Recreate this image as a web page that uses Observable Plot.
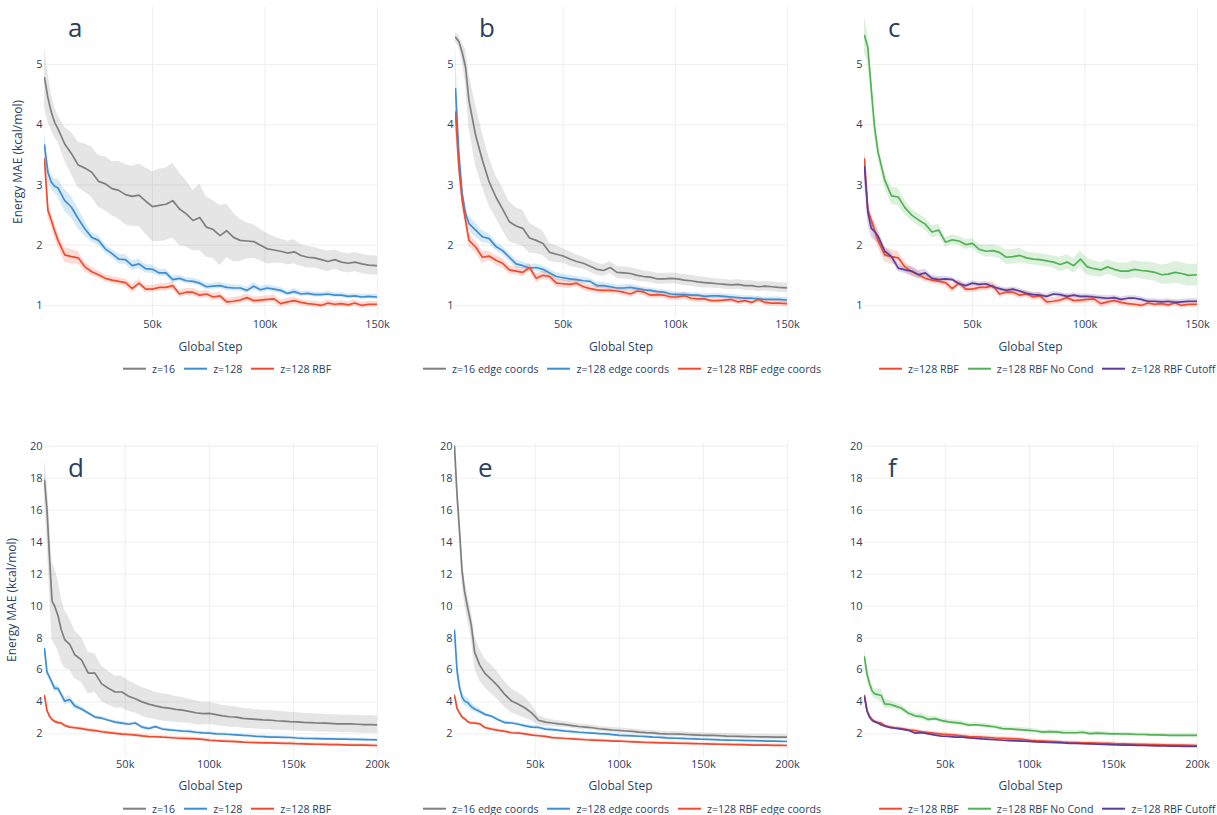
<!DOCTYPE html>
<html>
<head>
<meta charset="utf-8">
<script src="https://cdn.jsdelivr.net/npm/d3@7"></script>
<script src="https://cdn.jsdelivr.net/npm/@observablehq/plot@0.6"></script>
<style>
  body { margin: 0; background: #fff; font-family: 'Open Sans', sans-serif; color: #2a3f5f; }
  #root { position: relative; width: 1217px; height: 815px; overflow: hidden; background: #fff; }
  .panel { position: absolute; }
  .letter { position: absolute; font-size: 26px; line-height: 1; color: #2a3f5f; }
  .xtitle { position: absolute; font-size: 12px; line-height: 1; transform: translate(-50%, -50%); white-space: nowrap; color: #2a3f5f; }
  .ytitle { position: absolute; font-size: 12px; line-height: 1; transform: translate(-50%, -50%) rotate(-90deg); white-space: nowrap; color: #2a3f5f; }
  .legend { position: absolute; display: flex; align-items: center; font-size: 10.6px; line-height: 1; white-space: nowrap; transform: translateY(-50%); color: #2a3f5f; }
  .item { display: flex; align-items: center; margin-right: 9px; }
  .swatch { width: 23px; height: 2px; margin-right: 6px; }
</style>
</head>
<body>
<div id="root"></div>
<script>
// ---------- DATA ----------
const stepsTop = [2000,3500,5000,6500,8000,11000,14000,17000,20000,23000,
  26000,29000,32000,35000,38000,41000,44000,47000,50000,53000,
  56000,59000,62000,65000,68000,71000,74000,77000,80000,83000,
  86000,89000,92000,95000,98000,101000,104000,107000,110000,113000,
  116000,119000,122000,125000,128000,131000,134000,137000,140000,143000,
  146000,150000];
const stepsBottom = [2000,3500,5000,6500,8000,10000,12000,14000,17000,20000,
  24000,28000,32000,36000,40000,44000,48000,52000,56000,60000,
  64000,68000,72000,76000,80000,84000,88000,92000,96000,100000,
  104000,108000,112000,116000,120000,124000,128000,132000,136000,140000,
  144000,148000,152000,156000,160000,164000,168000,172000,176000,180000,
  184000,188000,192000,196000,200000];

const xTicksTop = [50000, 100000, 150000];
const xTicksBottom = [50000, 100000, 150000, 200000];
const yTicksTop = [1, 2, 3, 4, 5];
const yTicksBottom = [2, 4, 6, 8, 10, 12, 14, 16, 18, 20];

// panel a
const z16 = [4.78,4.45,4.21,4.04,3.93,3.68,3.52,3.33,3.28,3.21,
  3.06,3.02,2.94,2.91,2.84,2.81,2.83,2.73,2.64,2.66,
  2.68,2.74,2.60,2.52,2.41,2.46,2.30,2.26,2.16,2.24,
  2.13,2.08,2.07,2.06,2.00,1.94,1.92,1.90,1.87,1.89,
  1.83,1.80,1.79,1.76,1.73,1.76,1.72,1.70,1.72,1.69,
  1.67,1.66];
const z16Sd = [0.5,0.4,0.3,0.25,0.22,0.28,0.35,0.38,0.4,0.42,
  0.43,0.45,0.45,0.48,0.5,0.5,0.52,0.55,0.58,0.6,
  0.6,0.62,0.6,0.55,0.5,0.55,0.5,0.48,0.5,0.45,
  0.4,0.35,0.3,0.28,0.26,0.25,0.22,0.2,0.2,0.2,
  0.18,0.18,0.17,0.17,0.17,0.16,0.16,0.16,0.16,0.16,
  0.16,0.16];
const z128 = [3.66,3.21,3.05,2.98,2.95,2.74,2.63,2.44,2.27,2.13,
  2.08,1.94,1.86,1.77,1.76,1.66,1.69,1.61,1.60,1.54,
  1.54,1.43,1.45,1.41,1.40,1.37,1.31,1.32,1.33,1.30,
  1.29,1.29,1.25,1.32,1.26,1.29,1.27,1.25,1.20,1.23,
  1.19,1.20,1.18,1.18,1.19,1.17,1.17,1.15,1.16,1.14,
  1.15,1.14];
const z128Sd = [0.2,0.15,0.12,0.12,0.15,0.18,0.18,0.17,0.12,0.08,
  0.08,0.07,0.07,0.08,0.08,0.08,0.08,0.07,0.07,0.06,
  0.06,0.06,0.05,0.05,0.05,0.05,0.05,0.05,0.05,0.05,
  0.05,0.05,0.05,0.06,0.05,0.05,0.05,0.05,0.04,0.05,
  0.04,0.04,0.04,0.04,0.04,0.04,0.04,0.04,0.04,0.04,
  0.04,0.04];
const z128Rbf = [3.43,2.58,2.42,2.24,2.08,1.84,1.81,1.79,1.64,1.56,
  1.51,1.45,1.42,1.40,1.38,1.28,1.37,1.27,1.27,1.30,
  1.30,1.33,1.19,1.22,1.22,1.17,1.19,1.14,1.16,1.06,
  1.07,1.09,1.13,1.08,1.09,1.10,1.11,1.03,1.06,1.08,
  1.05,1.03,1.02,1.00,1.04,1.02,1.03,1.01,1.04,1.00,
  1.02,1.02];
const z128RbfSd = [0.12,0.12,0.12,0.12,0.12,0.12,0.12,0.1,0.08,0.07,
  0.06,0.06,0.06,0.06,0.06,0.07,0.06,0.06,0.06,0.06,
  0.06,0.07,0.06,0.06,0.06,0.06,0.06,0.06,0.06,0.06,
  0.06,0.06,0.06,0.06,0.06,0.06,0.06,0.06,0.06,0.06,
  0.05,0.05,0.05,0.05,0.05,0.05,0.05,0.05,0.05,0.05,
  0.05,0.05];

// panel b
const z16Edge = [5.45,5.38,5.20,4.95,4.40,3.82,3.41,3.05,2.80,2.60,
  2.39,2.32,2.28,2.12,2.08,2.03,1.88,1.85,1.82,1.77,
  1.73,1.70,1.65,1.60,1.58,1.63,1.55,1.54,1.53,1.50,
  1.48,1.47,1.44,1.44,1.45,1.44,1.42,1.41,1.39,1.38,
  1.37,1.36,1.35,1.34,1.35,1.33,1.33,1.31,1.32,1.31,
  1.30,1.29];
const z16EdgeSd = [0.08,0.1,0.15,0.3,0.45,0.5,0.45,0.4,0.35,0.35,
  0.33,0.3,0.3,0.25,0.22,0.2,0.15,0.14,0.12,0.12,
  0.11,0.1,0.1,0.1,0.1,0.1,0.1,0.1,0.1,0.1,
  0.09,0.09,0.09,0.09,0.09,0.09,0.09,0.09,0.09,0.09,
  0.08,0.08,0.08,0.08,0.08,0.08,0.08,0.08,0.08,0.08,
  0.08,0.08];
const z128Edge = [4.60,3.52,2.85,2.52,2.36,2.25,2.14,2.11,1.98,1.91,
  1.80,1.69,1.66,1.62,1.63,1.60,1.54,1.48,1.46,1.44,
  1.43,1.41,1.40,1.33,1.33,1.31,1.29,1.29,1.30,1.28,
  1.26,1.25,1.23,1.22,1.19,1.18,1.18,1.17,1.17,1.15,
  1.16,1.16,1.15,1.14,1.13,1.12,1.12,1.11,1.10,1.10,
  1.10,1.09];
const z128EdgeSd = [0.75,0.3,0.15,0.12,0.12,0.12,0.1,0.08,0.07,0.07,
  0.07,0.07,0.06,0.06,0.06,0.06,0.06,0.06,0.06,0.06,
  0.05,0.05,0.05,0.05,0.05,0.05,0.05,0.05,0.05,0.05,
  0.04,0.04,0.04,0.04,0.04,0.04,0.04,0.04,0.04,0.04,
  0.04,0.04,0.04,0.04,0.04,0.04,0.04,0.04,0.04,0.04,
  0.04,0.04];
const z128RbfEdge = [4.21,3.30,2.74,2.41,2.08,1.97,1.80,1.82,1.75,1.70,
  1.59,1.57,1.55,1.63,1.45,1.50,1.48,1.37,1.36,1.35,
  1.37,1.31,1.28,1.26,1.25,1.25,1.24,1.22,1.19,1.24,
  1.22,1.17,1.18,1.17,1.14,1.14,1.16,1.12,1.11,1.11,
  1.08,1.08,1.09,1.10,1.06,1.08,1.05,1.10,1.05,1.04,
  1.04,1.03];
const z128RbfEdgeSd = [0.15,0.15,0.12,0.1,0.1,0.1,0.1,0.08,0.08,0.08,
  0.07,0.07,0.07,0.07,0.07,0.07,0.07,0.07,0.07,0.07,
  0.06,0.06,0.06,0.06,0.06,0.06,0.06,0.06,0.06,0.06,
  0.06,0.06,0.06,0.06,0.06,0.06,0.06,0.06,0.06,0.06,
  0.05,0.05,0.05,0.05,0.05,0.05,0.05,0.05,0.05,0.05,
  0.05,0.05];

// panel c (z=128 RBF is the same run as in panel a)
const z128RbfNoCond = [5.48,5.28,4.60,3.95,3.55,3.08,2.82,2.80,2.62,2.50,
  2.42,2.35,2.22,2.25,2.05,2.09,2.07,2.01,2.03,1.93,
  1.90,1.91,1.88,1.80,1.81,1.83,1.79,1.77,1.76,1.74,
  1.72,1.68,1.72,1.66,1.77,1.64,1.61,1.59,1.64,1.60,
  1.57,1.57,1.60,1.58,1.57,1.55,1.51,1.52,1.55,1.53,
  1.50,1.51];
const z128RbfNoCondSd = [0.3,0.25,0.2,0.15,0.12,0.12,0.14,0.15,0.12,0.1,
  0.1,0.1,0.1,0.1,0.08,0.08,0.08,0.08,0.08,0.08,
  0.1,0.1,0.1,0.12,0.12,0.12,0.1,0.1,0.1,0.1,
  0.1,0.12,0.12,0.12,0.14,0.14,0.13,0.12,0.12,0.12,
  0.13,0.14,0.14,0.14,0.15,0.15,0.16,0.17,0.18,0.18,
  0.18,0.18];
const z128RbfCutoff = [3.30,2.55,2.28,2.23,2.15,1.90,1.81,1.62,1.59,1.57,
  1.51,1.54,1.45,1.43,1.44,1.43,1.36,1.33,1.37,1.35,
  1.36,1.31,1.28,1.25,1.27,1.24,1.20,1.18,1.17,1.15,
  1.19,1.18,1.15,1.17,1.15,1.15,1.14,1.13,1.12,1.13,
  1.10,1.12,1.12,1.10,1.07,1.07,1.06,1.07,1.05,1.06,
  1.07,1.07];
const z128RbfCutoffSd = [0.25,0.2,0.15,0.15,0.12,0.08,0.06,0.06,0.06,0.08,
  0.07,0.06,0.05,0.05,0.04,0.04,0.04,0.04,0.04,0.04,
  0.04,0.04,0.04,0.04,0.04,0.04,0.04,0.04,0.04,0.04,
  0.04,0.04,0.04,0.04,0.04,0.04,0.04,0.04,0.04,0.04,
  0.04,0.04,0.04,0.04,0.04,0.04,0.04,0.04,0.04,0.04,
  0.04,0.04];

// panel d
const d16 = [17.86,16.0,13.0,10.3,10.0,9.4,8.5,7.9,7.6,6.95,
  6.63,5.8,5.8,5.13,4.85,4.62,4.62,4.35,4.2,4.0,
  3.86,3.75,3.66,3.61,3.53,3.48,3.41,3.32,3.26,3.28,
  3.20,3.12,3.07,3.05,2.97,2.94,2.91,2.87,2.86,2.82,
  2.80,2.77,2.75,2.72,2.70,2.68,2.67,2.65,2.63,2.62,
  2.62,2.60,2.58,2.58,2.56];
const d16Sd = [1.3,1.8,2.2,2.4,2.4,2.2,2.0,1.8,1.6,1.5,
  1.4,1.3,1.2,1.1,1.05,1.0,1.0,0.95,0.9,0.9,
  0.9,0.85,0.85,0.85,0.8,0.8,0.75,0.75,0.7,0.7,
  0.68,0.66,0.65,0.63,0.62,0.61,0.6,0.6,0.6,0.59,
  0.58,0.58,0.57,0.57,0.56,0.56,0.56,0.55,0.55,0.55,
  0.55,0.55,0.55,0.55,0.55];
const d128 = [7.32,5.86,5.55,5.2,4.85,4.85,4.45,4.05,4.15,3.75,
  3.56,3.3,3.05,2.98,2.85,2.73,2.67,2.6,2.68,2.42,
  2.33,2.45,2.3,2.25,2.21,2.17,2.16,2.1,2.06,2.04,
  2.0,1.99,1.96,1.93,1.9,1.88,1.84,1.83,1.8,1.79,
  1.78,1.77,1.74,1.72,1.71,1.7,1.69,1.68,1.67,1.67,
  1.66,1.65,1.64,1.63,1.62];
const d128Sd = [0.3,0.25,0.2,0.2,0.2,0.2,0.22,0.25,0.25,0.2,
  0.15,0.12,0.1,0.1,0.1,0.1,0.1,0.1,0.1,0.1,
  0.08,0.08,0.08,0.08,0.08,0.08,0.08,0.08,0.08,0.08,
  0.08,0.08,0.08,0.08,0.08,0.08,0.08,0.08,0.08,0.08,
  0.08,0.08,0.08,0.08,0.08,0.08,0.08,0.08,0.08,0.08,
  0.08,0.08,0.08,0.08,0.08];
const d128Rbf = [4.4,3.46,3.1,2.9,2.78,2.7,2.67,2.52,2.42,2.38,
  2.33,2.25,2.2,2.13,2.08,2.03,1.98,1.96,1.92,1.87,
  1.83,1.82,1.79,1.77,1.74,1.72,1.70,1.68,1.65,1.60,
  1.57,1.55,1.53,1.51,1.48,1.46,1.45,1.44,1.43,1.42,
  1.41,1.40,1.38,1.37,1.36,1.35,1.34,1.33,1.32,1.31,
  1.30,1.29,1.29,1.28,1.27];
const d128RbfSd = [0.15,0.15,0.12,0.12,0.1,0.1,0.1,0.1,0.1,0.1,
  0.1,0.1,0.1,0.1,0.1,0.1,0.1,0.1,0.1,0.1,
  0.1,0.1,0.1,0.1,0.1,0.1,0.1,0.1,0.1,0.1,
  0.09,0.09,0.09,0.09,0.09,0.09,0.09,0.09,0.09,0.09,
  0.09,0.09,0.09,0.09,0.09,0.09,0.09,0.09,0.09,0.09,
  0.09,0.09,0.09,0.09,0.09];

// panel e
const e16 = [20.0,17.0,14.7,12.2,10.9,9.8,8.8,7.1,6.3,5.8,
  5.4,4.97,4.45,4.05,3.85,3.62,3.3,2.85,2.73,2.68,
  2.62,2.58,2.52,2.46,2.42,2.38,2.32,2.28,2.24,2.21,
  2.18,2.15,2.11,2.08,2.06,2.02,2.0,1.99,1.98,1.96,
  1.94,1.92,1.91,1.9,1.88,1.86,1.85,1.84,1.83,1.82,
  1.81,1.81,1.8,1.79,1.79];
const e16Sd = [0.3,0.6,0.8,0.8,0.8,0.8,0.9,1.0,1.0,0.9,
  0.9,0.85,0.8,0.75,0.7,0.65,0.5,0.3,0.25,0.2,
  0.2,0.18,0.18,0.17,0.17,0.16,0.16,0.15,0.15,0.15,
  0.15,0.15,0.15,0.15,0.15,0.15,0.15,0.15,0.15,0.15,
  0.15,0.15,0.15,0.15,0.15,0.15,0.15,0.15,0.15,0.15,
  0.15,0.15,0.15,0.15,0.15];
const e128 = [8.47,6.0,4.9,4.3,4.05,3.95,3.7,3.56,3.4,3.22,
  3.1,2.88,2.7,2.68,2.6,2.5,2.42,2.4,2.3,2.26,
  2.22,2.17,2.14,2.1,2.07,2.04,2.01,2.0,1.95,1.91,
  1.89,1.87,1.85,1.83,1.8,1.78,1.75,1.73,1.72,1.7,
  1.69,1.67,1.66,1.64,1.62,1.61,1.6,1.59,1.58,1.57,
  1.56,1.55,1.54,1.53,1.52];
const e128Sd = [0.5,0.4,0.3,0.3,0.3,0.3,0.25,0.2,0.15,0.12,
  0.1,0.1,0.1,0.1,0.1,0.1,0.1,0.1,0.1,0.1,
  0.08,0.08,0.08,0.08,0.08,0.08,0.08,0.08,0.08,0.08,
  0.07,0.07,0.07,0.07,0.07,0.07,0.07,0.07,0.07,0.07,
  0.06,0.06,0.06,0.06,0.06,0.06,0.06,0.06,0.06,0.06,
  0.06,0.06,0.06,0.06,0.06];
const e128Rbf = [4.4,3.6,3.3,3.05,2.95,2.75,2.68,2.67,2.63,2.4,
  2.3,2.22,2.15,2.07,2.04,2.0,1.92,1.88,1.84,1.76,
  1.74,1.71,1.69,1.66,1.63,1.61,1.59,1.57,1.55,1.54,
  1.52,1.5,1.48,1.46,1.45,1.44,1.43,1.42,1.41,1.4,
  1.39,1.38,1.37,1.36,1.35,1.34,1.33,1.32,1.31,1.3,
  1.3,1.29,1.28,1.28,1.27];
const e128RbfSd = [0.12,0.12,0.1,0.1,0.08,0.08,0.08,0.08,0.08,0.08,
  0.08,0.08,0.08,0.08,0.08,0.08,0.08,0.08,0.08,0.08,
  0.08,0.08,0.08,0.08,0.08,0.08,0.08,0.08,0.08,0.08,
  0.08,0.08,0.08,0.08,0.08,0.08,0.08,0.08,0.08,0.08,
  0.08,0.08,0.08,0.08,0.08,0.08,0.08,0.08,0.08,0.08,
  0.08,0.08,0.08,0.08,0.08];

// panel f (z=128 RBF is the same run as in panel d)
const f128NoCond = [6.8,5.76,5.15,4.7,4.5,4.45,4.4,3.88,3.85,3.75,
  3.6,3.3,3.13,3.08,2.9,2.95,2.83,2.75,2.7,2.65,
  2.55,2.57,2.53,2.48,2.43,2.33,2.31,2.28,2.25,2.22,
  2.18,2.11,2.14,2.12,2.08,2.07,2.07,2.1,2.01,2.04,
  2.03,2.0,2.0,1.99,1.98,1.96,1.96,1.93,1.93,1.92,
  1.91,1.9,1.9,1.9,1.9];
const f128NoCondSd = [0.5,0.4,0.35,0.3,0.3,0.35,0.4,0.3,0.25,0.2,
  0.2,0.18,0.18,0.2,0.18,0.15,0.15,0.15,0.15,0.15,
  0.13,0.13,0.13,0.13,0.13,0.13,0.13,0.13,0.13,0.13,
  0.12,0.12,0.12,0.12,0.12,0.12,0.12,0.12,0.12,0.12,
  0.1,0.1,0.1,0.1,0.1,0.1,0.1,0.1,0.1,0.1,
  0.1,0.1,0.1,0.1,0.1];
const f128Cutoff = [4.3,3.45,3.05,2.85,2.75,2.68,2.55,2.48,2.4,2.35,
  2.3,2.22,2.05,2.08,2.0,1.92,1.85,1.84,1.8,1.79,
  1.75,1.72,1.68,1.65,1.63,1.6,1.58,1.56,1.55,1.53,
  1.5,1.48,1.46,1.45,1.43,1.41,1.4,1.38,1.37,1.35,
  1.34,1.32,1.31,1.3,1.29,1.28,1.27,1.26,1.25,1.24,
  1.23,1.23,1.22,1.22,1.21];
const f128CutoffSd = [0.1,0.1,0.08,0.07,0.07,0.07,0.07,0.07,0.07,0.07,
  0.07,0.07,0.07,0.07,0.07,0.07,0.07,0.07,0.07,0.07,
  0.07,0.07,0.07,0.07,0.07,0.07,0.07,0.07,0.07,0.07,
  0.07,0.07,0.07,0.07,0.07,0.07,0.07,0.07,0.07,0.07,
  0.07,0.07,0.07,0.07,0.07,0.07,0.07,0.07,0.07,0.07,
  0.07,0.07,0.07,0.07,0.07];

// ---------- STYLE ----------
const GREY = "#7f7f7f", BLUE = "#3d8fd1", RED = "#f04a2f", GREEN = "#52b255", PURPLE = "#5c3d9b";
const INK = "#2a3f5f", GRID = "#efefef";
const FONT = "'Open Sans', sans-serif";

const rows = [
  {top: 0, height: 360, mt: 7, mb: 43, yDomain: [0.8, 5.946], yTicks: yTicksTop, xDomain: [2000, 150000], xTicks: xTicksTop, titleY: 347, legendY: 369, letterTop: 14},
  {top: 420, height: 380, mt: 23, mb: 43, yDomain: [0.52, 20.17], yTicks: yTicksBottom, xDomain: [2000, 200000], xTicks: xTicksBottom, titleY: 786, legendY: 809, letterTop: 454}
];

const panels = [
  {letter: "a", row: 0, left: 0, width: 400, mr: 23, legendLeft: 123, ytitleX: 18, series: [
    {name: "z=16", steps: stepsTop, v: z16, sd: z16Sd, color: GREY},
    {name: "z=128", steps: stepsTop, v: z128, sd: z128Sd, color: BLUE},
    {name: "z=128 RBF", steps: stepsTop, v: z128Rbf, sd: z128RbfSd, color: RED}]},
  {letter: "b", row: 0, left: 411, width: 400, mr: 24, legendLeft: 423, series: [
    {name: "z=16 edge coords", steps: stepsTop, v: z16Edge, sd: z16EdgeSd, color: GREY},
    {name: "z=128 edge coords", steps: stepsTop, v: z128Edge, sd: z128EdgeSd, color: BLUE},
    {name: "z=128 RBF edge coords", steps: stepsTop, v: z128RbfEdge, sd: z128RbfEdgeSd, color: RED}]},
  {letter: "c", row: 0, left: 820, width: 397, mr: 20, legendLeft: 879, series: [
    {name: "z=128 RBF", steps: stepsTop, v: z128Rbf, sd: z128RbfSd, color: RED},
    {name: "z=128 RBF No Cond", steps: stepsTop, v: z128RbfNoCond, sd: z128RbfNoCondSd, color: GREEN},
    {name: "z=128 RBF Cutoff", steps: stepsTop, v: z128RbfCutoff, sd: z128RbfCutoffSd, color: PURPLE}]},
  {letter: "d", row: 1, left: 0, width: 400, mr: 23, legendLeft: 123, ytitleX: 12, series: [
    {name: "z=16", steps: stepsBottom, v: d16, sd: d16Sd, color: GREY},
    {name: "z=128", steps: stepsBottom, v: d128, sd: d128Sd, color: BLUE},
    {name: "z=128 RBF", steps: stepsBottom, v: d128Rbf, sd: d128RbfSd, color: RED}]},
  {letter: "e", row: 1, left: 410, width: 400, mr: 23, legendLeft: 423, series: [
    {name: "z=16 edge coords", steps: stepsBottom, v: e16, sd: e16Sd, color: GREY},
    {name: "z=128 edge coords", steps: stepsBottom, v: e128, sd: e128Sd, color: BLUE},
    {name: "z=128 RBF edge coords", steps: stepsBottom, v: e128Rbf, sd: e128RbfSd, color: RED}]},
  {letter: "f", row: 1, left: 820, width: 397, mr: 20, legendLeft: 879, series: [
    {name: "z=128 RBF", steps: stepsBottom, v: d128Rbf, sd: d128RbfSd, color: RED},
    {name: "z=128 RBF No Cond", steps: stepsBottom, v: f128NoCond, sd: f128NoCondSd, color: GREEN},
    {name: "z=128 RBF Cutoff", steps: stepsBottom, v: f128Cutoff, sd: f128CutoffSd, color: PURPLE}]}
];

// ---------- RENDER ----------
const root = document.getElementById("root");

function addDiv(cls, text, css) {
  const el = document.createElement("div");
  el.className = cls;
  if (text != null) el.textContent = text;
  Object.assign(el.style, css);
  root.appendChild(el);
  return el;
}

for (const p of panels) {
  const r = rows[p.row];
  const data = p.series.flatMap(s => s.v.map((v, i) => ({
    name: s.name, step: s.steps[i], v, lo: v - s.sd[i], hi: v + s.sd[i]
  })));
  const names = p.series.map(s => s.name);
  const colors = p.series.map(s => s.color);

  const chart = Plot.plot({
    width: p.width,
    height: r.height,
    marginLeft: 44,
    marginRight: p.mr,
    marginTop: r.mt,
    marginBottom: r.mb,
    style: {fontFamily: FONT, fontSize: "11px", color: INK, background: "transparent"},
    x: {domain: r.xDomain, label: null},
    y: {domain: r.yDomain, label: null},
    color: {domain: names, range: colors},
    marks: [
      Plot.gridY(r.yTicks, {stroke: GRID, strokeOpacity: 1, strokeWidth: 1}),
      Plot.gridX(r.xTicks, {stroke: GRID, strokeOpacity: 1, strokeWidth: 1}),
      Plot.areaY(data, {x: "step", y1: "lo", y2: "hi", z: "name", fill: "name", fillOpacity: 0.2, clip: true}),
      Plot.lineY(data, {x: "step", y: "v", z: "name", stroke: "name", strokeWidth: 1.7, clip: true}),
      Plot.axisX({ticks: r.xTicks, tickSize: 0, tickPadding: 3, tickFormat: d => d / 1000 + "k", label: null, fill: INK}),
      Plot.axisY({ticks: r.yTicks, tickSize: 0, tickPadding: 2, tickFormat: d => String(d), label: null, fill: INK})
    ]
  });
  const wrap = document.createElement("div");
  wrap.className = "panel";
  wrap.style.left = p.left + "px";
  wrap.style.top = r.top + "px";
  wrap.appendChild(chart);
  root.appendChild(wrap);

  const plotLeft = p.left + 44;
  const plotRight = p.left + p.width - p.mr;

  addDiv("letter", p.letter, {left: (plotLeft + 24) + "px", top: r.letterTop + "px"});
  addDiv("xtitle", "Global Step", {left: ((plotLeft + plotRight) / 2) + "px", top: r.titleY + "px"});
  if (p.ytitleX != null) {
    const plotTop = r.top + r.mt, plotBottom = r.top + r.height - r.mb;
    addDiv("ytitle", "Energy MAE (kcal/mol)", {left: p.ytitleX + "px", top: ((plotTop + plotBottom) / 2) + "px"});
  }
  const lg = addDiv("legend", null, {left: p.legendLeft + "px", top: r.legendY + "px"});
  for (const s of p.series) {
    const it = document.createElement("div");
    it.className = "item";
    const sw = document.createElement("span");
    sw.className = "swatch";
    sw.style.background = s.color;
    const tx = document.createElement("span");
    tx.textContent = s.name;
    it.appendChild(sw);
    it.appendChild(tx);
    lg.appendChild(it);
  }
}
</script>
</body>
</html>
